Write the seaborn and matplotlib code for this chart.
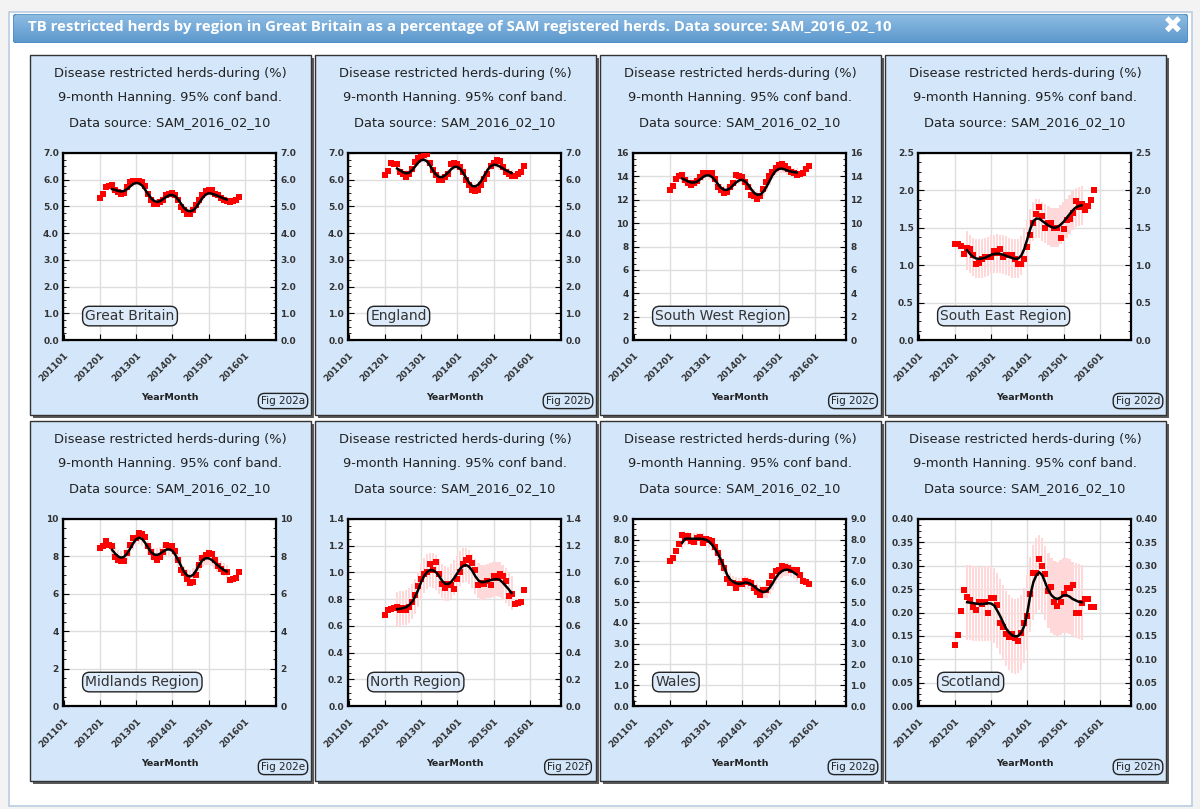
import numpy as np
import seaborn as sns
import matplotlib.pyplot as plt
from matplotlib.patches import Rectangle, FancyBboxPatch
from matplotlib.colors import LinearSegmentedColormap
from matplotlib.ticker import MultipleLocator, FormatStrFormatter

W, H = 1200, 809  # output size in pixels

title = ("TB restricted herds by region in Great Britain as a percentage of "
         "SAM registered herds. Data source: SAM_2016_02_10")
panel_title = ["Disease restricted herds-during (%)",
               "9-month Hanning. 95% conf band.",
               "Data source: SAM_2016_02_10"]

# monthly points 201201..201511, smoothed curve 201205..201507
raw_months = [f"{2012 + i // 12}{i % 12 + 1:02d}" for i in range(47)]
smooth_months = raw_months[4:43]
year_ticks = ["201101", "201201", "201301", "201401", "201501", "201601"]

regions = ["Great Britain", "England", "South West Region", "South East Region",
           "Midlands Region", "North Region", "Wales", "Scotland"]
fig_labels = ["Fig 202a", "Fig 202b", "Fig 202c", "Fig 202d",
              "Fig 202e", "Fig 202f", "Fig 202g", "Fig 202h"]

gb_raw = [5.33, 5.45, 5.73, 5.75, 5.82, 5.6, 5.55, 5.45, 5.5, 5.73,
          5.92, 5.97, 5.97, 5.95, 5.92, 5.75, 5.48, 5.25, 5.08, 5.08,
          5.17, 5.23, 5.42, 5.48, 5.5, 5.42, 5.23, 4.98, 4.86, 4.73,
          4.71, 4.86, 5.04, 5.23, 5.42, 5.58, 5.6, 5.6, 5.48, 5.42,
          5.3, 5.23, 5.2, 5.17, 5.2, 5.25, 5.35]
gb_smooth = [5.65, 5.62, 5.58, 5.56, 5.58, 5.65, 5.75, 5.84, 5.88, 5.86,
             5.78, 5.62, 5.45, 5.3, 5.2, 5.17, 5.2, 5.28, 5.36, 5.42,
             5.43, 5.38, 5.25, 5.08, 4.93, 4.84, 4.82, 4.86, 4.98, 5.15,
             5.32, 5.44, 5.49, 5.48, 5.44, 5.4, 5.35, 5.3, 5.26]

eng_raw = [6.19, 6.33, 6.62, 6.6, 6.6, 6.29, 6.23, 6.1, 6.23, 6.41,
           6.66, 6.82, 6.85, 6.91, 6.95, 6.62, 6.35, 6.16, 6.0, 5.98,
           6.1, 6.23, 6.6, 6.62, 6.6, 6.48, 6.29, 6.0, 5.79, 5.6,
           5.58, 5.6, 5.82, 6.04, 6.23, 6.5, 6.62, 6.72, 6.7, 6.48,
           6.29, 6.23, 6.13, 6.13, 6.23, 6.29, 6.5]
eng_smooth = [6.42, 6.35, 6.28, 6.24, 6.26, 6.36, 6.5, 6.64, 6.73, 6.75,
              6.68, 6.52, 6.33, 6.18, 6.1, 6.1, 6.17, 6.28, 6.4, 6.48,
              6.48, 6.4, 6.24, 6.05, 5.87, 5.76, 5.75, 5.82, 5.97, 6.17,
              6.36, 6.5, 6.56, 6.55, 6.5, 6.43, 6.36, 6.3, 6.25]

sw_raw = [12.8, 13.2, 13.8, 14.05, 14.15, 13.67, 13.47, 13.25, 13.45, 13.6,
          13.95, 14.3, 14.33, 14.25, 14.33, 13.8, 13.05, 12.82, 12.6, 12.68,
          13.1, 13.45, 14.1, 14.05, 13.95, 13.53, 13.1, 12.39, 12.3, 12.1,
          12.3, 12.9, 13.5, 14.0, 14.4, 14.7, 15.0, 15.05, 14.9, 14.6,
          14.4, 14.3, 14.15, 14.2, 14.3, 14.6, 14.85]
sw_smooth = [13.82, 13.7, 13.57, 13.48, 13.47, 13.56, 13.75, 13.95, 14.08, 14.08,
             13.93, 13.65, 13.3, 13.0, 12.85, 12.85, 13.0, 13.25, 13.5, 13.67,
             13.7, 13.55, 13.25, 12.88, 12.57, 12.43, 12.45, 12.7, 13.1, 13.6,
             14.1, 14.45, 14.63, 14.67, 14.6, 14.5, 14.42, 14.37, 14.33]

se_raw = [1.285, 1.285, 1.26, 1.155, 1.23, 1.21, 1.13, 1.02, 1.03, 1.085,
          1.11, 1.11, 1.11, 1.19, 1.165, 1.21, 1.11, 1.13, 1.13, 1.13,
          1.08, 1.02, 1.02, 1.08, 1.245, 1.4, 1.565, 1.69, 1.78, 1.655,
          1.5, 1.57, 1.57, 1.5, 1.5, 1.36, 1.48, 1.6, 1.62, 1.7,
          1.86, 1.78, 1.82, 1.74, 1.79, 1.87, 2.0]
se_smooth = [1.2, 1.15, 1.11, 1.09, 1.085, 1.09, 1.1, 1.12, 1.14, 1.15,
             1.155, 1.15, 1.14, 1.125, 1.11, 1.095, 1.085, 1.09, 1.13, 1.22,
             1.35, 1.49, 1.59, 1.625, 1.62, 1.59, 1.56, 1.53, 1.51, 1.5,
             1.51, 1.54, 1.58, 1.63, 1.68, 1.73, 1.77, 1.79, 1.8]

mid_raw = [8.44, 8.53, 8.85, 8.61, 8.53, 7.99, 7.82, 7.73, 7.73, 8.17,
           8.61, 9.0, 9.0, 9.24, 9.18, 9.06, 8.53, 8.21, 7.99, 7.82,
           7.96, 8.26, 8.61, 8.58, 8.56, 8.31, 7.82, 7.28, 7.1, 6.8,
           6.57, 6.63, 7.02, 7.55, 7.94, 8.08, 8.2, 8.12, 7.8, 7.5,
           7.3, 7.15, 7.15, 6.75, 6.8, 6.82, 7.19]
mid_smooth = [8.35, 8.15, 8.0, 7.93, 7.98, 8.15, 8.42, 8.7, 8.92, 9.0,
              8.93, 8.72, 8.45, 8.22, 8.1, 8.08, 8.15, 8.27, 8.36, 8.38,
              8.3, 8.08, 7.78, 7.45, 7.15, 6.97, 6.93, 7.03, 7.27, 7.57,
              7.8, 7.9, 7.9, 7.82, 7.68, 7.53, 7.4, 7.28, 7.2]

north_raw = [0.68, 0.72, 0.725, 0.73, 0.74, 0.72, 0.735, 0.72, 0.74, 0.775,
             0.83, 0.9, 0.95, 0.99, 1.0, 1.06, 1.015, 1.08, 0.99, 0.915,
             0.88, 0.91, 0.905, 0.875, 0.95, 1.0, 1.065, 1.095, 1.105, 1.07,
             1.02, 0.905, 0.92, 0.91, 0.935, 0.905, 0.97, 0.96, 0.99, 0.975,
             0.935, 0.825, 0.84, 0.765, 0.77, 0.78, 0.865]
north_smooth = [0.725, 0.728, 0.733, 0.74, 0.755, 0.78, 0.82, 0.87, 0.93, 0.975,
                1.005, 1.018, 1.015, 1.0, 0.97, 0.935, 0.915, 0.913, 0.93, 0.96,
                0.995, 1.03, 1.05, 1.055, 1.04, 1.01, 0.97, 0.94, 0.927, 0.928,
                0.935, 0.942, 0.947, 0.95, 0.945, 0.926, 0.9, 0.875, 0.846]

wales_raw = [6.97, 7.13, 7.48, 7.8, 8.22, 8.09, 8.16, 7.96, 7.9, 8.09,
             8.12, 7.85, 8.04, 7.98, 7.93, 7.64, 7.37, 6.94, 6.62, 6.09,
             5.9, 5.91, 5.69, 5.85, 5.85, 6.01, 5.96, 5.93, 5.69, 5.5,
             5.32, 5.56, 5.56, 5.9, 6.25, 6.5, 6.55, 6.72, 6.7, 6.62,
             6.55, 6.55, 6.55, 6.3, 6.0, 5.95, 5.88]
wales_smooth = [7.85, 8.05, 8.06, 8.05, 8.05, 8.05, 8.05, 8.03, 8.0, 7.9,
                7.75, 7.55, 7.3, 7.0, 6.65, 6.3, 6.08, 5.97, 5.9, 5.88,
                5.9, 5.95, 5.92, 5.85, 5.75, 5.62, 5.54, 5.48, 5.52, 5.68,
                5.9, 6.15, 6.35, 6.48, 6.55, 6.56, 6.52, 6.43, 6.33]

scot_raw = [0.13, 0.152, 0.204, 0.249, 0.233, 0.226, 0.212, 0.206, 0.223, 0.219,
            0.223, 0.2, 0.231, 0.231, 0.217, 0.178, 0.169, 0.153, 0.148, 0.153,
            0.146, 0.139, 0.157, 0.178, 0.193, 0.24, 0.285, 0.285, 0.315, 0.3,
            0.283, 0.245, 0.255, 0.222, 0.213, 0.222, 0.24, 0.252, 0.252, 0.259,
            0.198, 0.198, 0.22, 0.228, 0.228, 0.212, 0.212]
scot_smooth = [0.222, 0.221, 0.22, 0.219, 0.218, 0.218, 0.219, 0.22, 0.219, 0.215,
               0.204, 0.192, 0.178, 0.165, 0.157, 0.151, 0.149, 0.15, 0.157, 0.172,
               0.2, 0.238, 0.265, 0.28, 0.286, 0.279, 0.263, 0.247, 0.237, 0.231,
               0.229, 0.232, 0.237, 0.237, 0.234, 0.229, 0.226, 0.223, 0.222]

raw_series = [gb_raw, eng_raw, sw_raw, se_raw, mid_raw, north_raw, wales_raw, scot_raw]
smooth_series = [gb_smooth, eng_smooth, sw_smooth, se_smooth,
                 mid_smooth, north_smooth, wales_smooth, scot_smooth]
band_halfwidth = [0.1, 0.12, 0.35, 0.26, 0.35, 0.13, 0.3, 0.08]

y_max = [7.0, 7.0, 16, 2.5, 10, 1.4, 9.0, 0.40]
y_step = [1.0, 1.0, 2, 0.5, 2, 0.2, 1.0, 0.05]
y_fmt = ["%.1f", "%.1f", "%d", "%.1f", "%d", "%.1f", "%.1f", "%.2f"]


def month_pos(s):
    # months since 201101
    return (int(s[:4]) - 2011) * 12 + int(s[4:]) - 1


def px_box(x, y, w, h):
    return [x / W, 1 - (y + h) / H, w / W, h / H]


def fx(x):
    return x / W


def fy(y):
    return 1 - y / H


raw_x = [month_pos(m) for m in raw_months]
smooth_x = [month_pos(m) for m in smooth_months]
tick_x = [month_pos(m) for m in year_ticks]

fig = plt.figure(figsize=(W / 100, H / 100), dpi=100)
fig.patch.set_facecolor("#f3f3f3")

# modal window (drawn behind the axes)
fig.add_artist(Rectangle((fx(9), fy(806)), 1183 / W, 794 / H,
                         transform=fig.transFigure, facecolor="white",
                         edgecolor="#b8cde2", lw=1.2, zorder=-5))
bar_ax = fig.add_axes(px_box(13, 14, 1175, 29))
grad = np.linspace(0, 1, 50).reshape(-1, 1)
img = bar_ax.imshow(grad, aspect="auto", extent=(0, 1, 1, 0),
                    cmap=LinearSegmentedColormap.from_list("bar", ["#8ebce3", "#5b98cd"]))
clip = FancyBboxPatch((0, 0), 1, 1, boxstyle="round,pad=0,rounding_size=0.004",
                      transform=bar_ax.transAxes, facecolor="none",
                      edgecolor="#4f8cc2", lw=1, mutation_aspect=40)
bar_ax.add_patch(clip)
img.set_clip_path(clip)
bar_ax.set_axis_off()
fig.text(fx(28), fy(27), title, color="white", weight="bold", size=10.8,
         family="Open Sans", va="center")
fig.text(fx(1173), fy(27), "\u2716", color="white", size=17, va="center", ha="center")

panel_x = [30, 315, 600, 885]
panel_y = [55, 421]

for i, region in enumerate(regions):
    px = panel_x[i % 4]
    py = panel_y[i // 4]

    # panel with shadow
    fig.add_artist(Rectangle((fx(px + 3), fy(py + 363)), 281 / W, 360 / H,
                             transform=fig.transFigure, facecolor="#5a5a5a",
                             lw=0, zorder=-4))
    fig.add_artist(Rectangle((fx(px), fy(py + 360)), 281 / W, 360 / H,
                             transform=fig.transFigure, facecolor="#d3e6fa",
                             edgecolor="#333333", lw=1, zorder=-3))
    for k, line in enumerate(panel_title):
        fig.text(fx(px + 140), fy(py + 18 + 25 * k), line, ha="center", va="center",
                 size=9.4, color="#222222")

    ax = fig.add_axes(px_box(px + 33, py + 98, 213, 187))
    ax.set_facecolor("white")

    raw = raw_series[i]
    sm = np.array(smooth_series[i])
    hw = band_halfwidth[i]

    ax.bar(smooth_x, 2 * hw, bottom=sm - hw, width=0.7, color="#ffd9d9",
           linewidth=0, zorder=1)
    sns.scatterplot(x=raw_x, y=raw, ax=ax, marker="s", color="#ff0000", s=16,
                    linewidth=0, zorder=3, legend=False)
    sns.lineplot(x=smooth_x, y=sm, ax=ax, color="black", lw=1.8, zorder=4,
                 legend=False)

    ax.set_xlim(-0.3, 70.4)
    ax.set_ylim(0, y_max[i])
    ax.set_xticks(tick_x)
    ax.set_xticklabels(year_ticks, rotation=45, ha="right", rotation_mode="anchor",
                       size=6.5, weight="bold", color="#333333")
    ax.yaxis.set_major_locator(MultipleLocator(y_step[i]))
    ax.yaxis.set_minor_locator(MultipleLocator(y_step[i] / 4))
    ax.yaxis.set_major_formatter(FormatStrFormatter(y_fmt[i]))
    ax.tick_params(axis="y", which="both", direction="in", left=True, right=True,
                   labelleft=True, labelright=True, labelsize=6.5, pad=3,
                   labelcolor="#333333")
    ax.tick_params(axis="y", which="major", length=4)
    ax.tick_params(axis="y", which="minor", length=2.5)
    ax.tick_params(axis="x", direction="in", length=4, pad=8)
    for lab in ax.get_yticklabels():
        lab.set_fontweight("bold")
    ax.grid(True, which="major", color="#dedede", lw=1)
    ax.set_axisbelow(True)
    for sp in ax.spines.values():
        sp.set_linewidth(1.6)
        sp.set_color("black")
    ax.set_xlabel("")
    ax.set_ylabel("")

    ax.text(0.105, 0.128, region, transform=ax.transAxes, ha="left", va="center",
            size=10, color="#333333", zorder=6,
            bbox=dict(boxstyle="round,pad=0.2,rounding_size=0.5",
                      facecolor="#dceaf9", edgecolor="#222222", lw=1))

    fig.text(fx(px + 139.5), fy(py + 343), "YearMonth", ha="center", va="center",
             size=6.8, weight="bold", color="#222222")
    fig.text(fx(px + 253), fy(py + 346), fig_labels[i], ha="center", va="center",
             size=7.5, color="#222222",
             bbox=dict(boxstyle="round,pad=0.25,rounding_size=0.6",
                       facecolor="#d3e6fa", edgecolor="#222222", lw=1))

fig.savefig("out.png", dpi=100)
